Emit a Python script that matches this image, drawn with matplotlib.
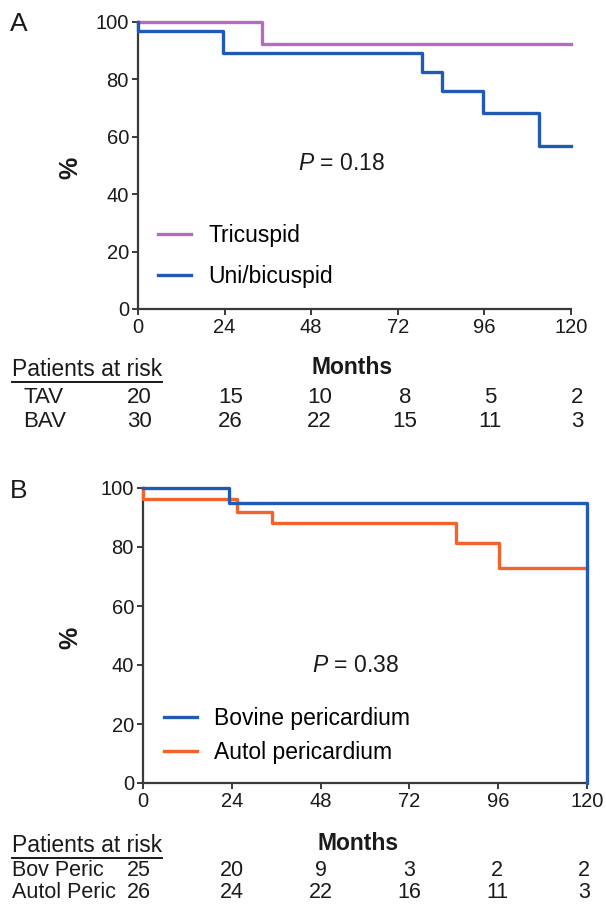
import matplotlib
matplotlib.use('Agg')
import matplotlib.pyplot as plt
import matplotlib.transforms as mtransforms
from matplotlib.lines import Line2D

plt.rcParams['font.family'] = ['Liberation Sans', 'DejaVu Sans']
plt.rcParams['mathtext.fontset'] = 'custom'
plt.rcParams['mathtext.it'] = 'Liberation Sans:italic'
plt.rcParams['mathtext.rm'] = 'Liberation Sans'

# ---------------- data ----------------
month_ticks = [0, 24, 48, 72, 96, 120]
pct_ticks = [0, 20, 40, 60, 80, 100]

# Panel A
tri_t = [0, 34.5, 120]
tri_s = [100, 92.3, 92.3]
uni_t = [0, 0, 23.5, 78.6, 84.3, 95.5, 111.2, 120]
uni_s = [100, 96.7, 89.3, 82.7, 76.0, 68.2, 56.8, 56.8]
labels_A = ['Tricuspid', 'Uni/bicuspid']
p_text_A = '$P$ = 0.18'
risk_rows_A = ['TAV', 'BAV']
risk_tav = [20, 15, 10, 8, 5, 2]
risk_bav = [30, 26, 22, 15, 11, 3]

# Panel B
bov_t = [0, 23.2, 120, 120]
bov_s = [100, 95.0, 95.0, 0]
aut_t = [0, 0, 25.5, 34.8, 84.6, 96.1, 120]
aut_s = [100, 96.2, 91.8, 88.0, 81.3, 72.9, 72.9]
labels_B = ['Bovine pericardium', 'Autol pericardium']
p_text_B = '$P$ = 0.38'
risk_rows_B = ['Bov Peric', 'Autol Peric']
risk_bov = [25, 20, 9, 3, 2, 2]
risk_aut = [26, 24, 22, 16, 11, 3]

# ---------------- style ----------------
W, H = 606, 908
C_PURPLE = '#B46CC3'
C_BLUE = '#1F5BB5'
C_ORANGE = '#F4622C'
C_AX = '#3a3a3a'
C_TXT = '#1a1a1a'
LW = 2.4

fig = plt.figure(figsize=(W / 100, H / 100), dpi=100)
fig.patch.set_facecolor('white')


def fx(x):
    return x / W


def fy(y):
    return 1 - y / H


def style_axes(ax):
    ax.set_xlim(0, 120)
    ax.set_ylim(0, 100)
    ax.set_xticks(month_ticks)
    ax.set_yticks(pct_ticks)
    for s in ['top', 'right']:
        ax.spines[s].set_visible(False)
    for s in ['left', 'bottom']:
        ax.spines[s].set_linewidth(1.6)
        ax.spines[s].set_color(C_AX)
    ax.tick_params(axis='both', length=4.5, width=1.4, color=C_AX,
                   labelsize=14.5, labelcolor=C_TXT, pad=2)
    ax.set_ylabel('%', fontsize=18, fontweight='bold', color=C_TXT)
    ax.set_xlabel('Months', fontsize=16.5, fontweight='bold', color=C_TXT)
    ax.xaxis.label.set_va('center')
    ax.yaxis.label.set_va('center')


def risk_table(ax, rows, values, row_y, row_x, header_y, xoffs_px, fs_hdr, fs_row):
    base = mtransforms.blended_transform_factory(ax.transData, fig.transFigure)
    hdr = fig.text(fx(12), fy(header_y), 'Patients at risk', fontsize=fs_hdr,
                   color=C_TXT, ha='left', va='center')
    for name, vals, yy, xx in zip(rows, values, row_y, row_x):
        fig.text(fx(xx), fy(yy), name, fontsize=fs_row, color=C_TXT,
                 ha='left', va='center')
        for m, v, off in zip(month_ticks, vals, xoffs_px):
            trans = mtransforms.offset_copy(base, fig=fig, x=off, y=0, units='dots')
            ax.text(m, fy(yy), str(v), transform=trans, fontsize=fs_row,
                    color=C_TXT, ha='center', va='center', clip_on=False)
    return hdr


# ---------------- Panel A ----------------
axA = fig.add_axes([fx(138), fy(309), (571 - 138) / W, (309 - 22) / H])
style_axes(axA)
axA.step(tri_t, tri_s, where='post', color=C_PURPLE, lw=LW, clip_on=False,
         label=labels_A[0], zorder=3)
axA.step(uni_t, uni_s, where='post', color=C_BLUE, lw=LW, clip_on=False,
         label=labels_A[1], zorder=4)
axA.text(56.5, 50.7, p_text_A, fontsize=16.5, color=C_TXT, ha='center', va='center')
axA.legend(loc='center left', bbox_to_anchor=((158 - 138) / 433, (309 - 256) / 287),
           frameon=False, fontsize=16.5, handlelength=1.45, handletextpad=0.75,
           labelspacing=0.8, borderpad=0, borderaxespad=0)
axA.yaxis.set_label_coords((70 - 138) / 433, (309 - 168) / 287)
axA.xaxis.set_label_coords((352 - 138) / 433, (309 - 368) / 287)
fig.text(fx(10), fy(24), 'A', fontsize=19, color=C_TXT, ha='left', va='center')
hdrA = risk_table(axA, risk_rows_A, [risk_tav, risk_bav], [398, 421.5],
                  [24, 23], 369, [1, 6, 8, 7, 6, 6], 16.5, 16)

# ---------------- Panel B ----------------
axB = fig.add_axes([fx(143), fy(783), (587 - 143) / W, (783 - 488) / H])
style_axes(axB)
axB.step(aut_t, aut_s, where='post', color=C_ORANGE, lw=LW, clip_on=False,
         label=labels_B[1], zorder=3)
axB.step(bov_t, bov_s, where='post', color=C_BLUE, lw=LW, clip_on=False,
         label=labels_B[0], zorder=4)
h, l = axB.get_legend_handles_labels()
axB.legend([h[1], h[0]], [l[1], l[0]], loc='center left',
           bbox_to_anchor=((164 - 143) / 444, (783 - 735.5) / 295),
           frameon=False, fontsize=16.5, handlelength=1.45, handletextpad=0.75,
           labelspacing=0.45, borderpad=0, borderaxespad=0)
axB.text(57.5, 40, p_text_B, fontsize=16.5, color=C_TXT, ha='center', va='center')
axB.yaxis.set_label_coords((70 - 143) / 444, (783 - 638) / 295)
axB.xaxis.set_label_coords((358 - 143) / 444, (783 - 843) / 295)
fig.text(fx(10), fy(491), 'B', fontsize=19, color=C_TXT, ha='left', va='center')
hdrB = risk_table(axB, risk_rows_B, [risk_bov, risk_aut], [870, 892.5],
                  [12, 12], 845, [-4, 0, 0, 0, -1, -3], 16.5, 15.5)

# underline the "Patients at risk" headers
fig.canvas.draw()
r = fig.canvas.get_renderer()
for hdr in (hdrA, hdrB):
    bb = hdr.get_window_extent(r)
    yline = bb.y0 - 1.0
    fig.add_artist(Line2D([bb.x0 / W, bb.x1 / W], [yline / H, yline / H],
                          color=C_TXT, lw=1.4, transform=fig.transFigure))

fig.savefig('out.png', dpi=100)
